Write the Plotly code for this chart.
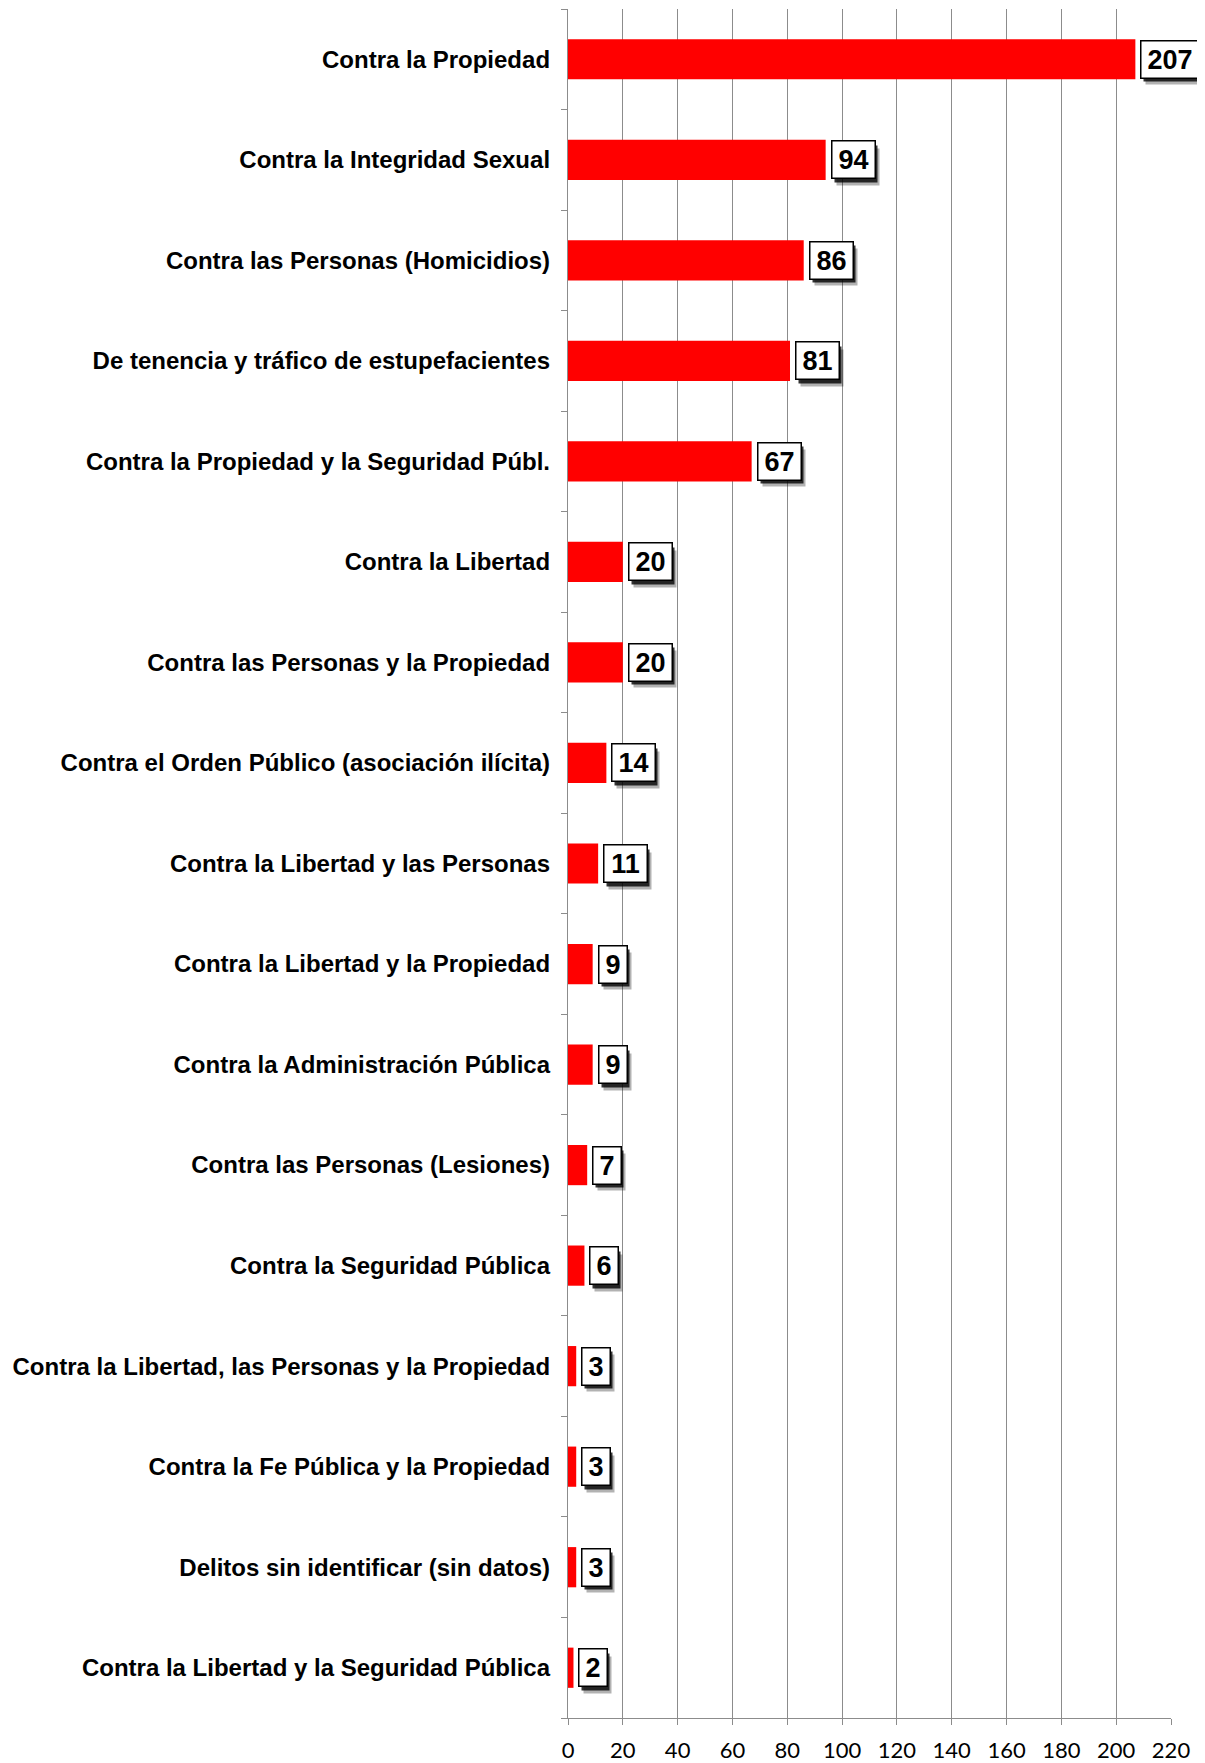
import plotly.graph_objects as go

categories = [
    "Contra la Propiedad",
    "Contra la Integridad Sexual",
    "Contra las Personas (Homicidios)",
    "De tenencia y tráfico de estupefacientes",
    "Contra la Propiedad y la Seguridad Públ.",
    "Contra la Libertad",
    "Contra las Personas y la Propiedad",
    "Contra el Orden Público (asociación ilícita)",
    "Contra la Libertad y las Personas",
    "Contra la Libertad y la Propiedad",
    "Contra la Administración Pública",
    "Contra las Personas (Lesiones)",
    "Contra la Seguridad Pública",
    "Contra la Libertad, las Personas y la Propiedad",
    "Contra la Fe Pública y la Propiedad",
    "Delitos sin identificar (sin datos)",
    "Contra la Libertad y la Seguridad Pública",
]
values = [207, 94, 86, 81, 67, 20, 20, 14, 11, 9, 9, 7, 6, 3, 3, 3, 2]
x_ticks = [0, 20, 40, 60, 80, 100, 120, 140, 160, 180, 200, 220]

fig = go.Figure()
fig.add_trace(go.Bar(
    x=values, y=categories, orientation="h",
    marker=dict(color="#FF0000", line=dict(width=0)),
    width=0.4, hoverinfo="x+y",
))

annotations = []
for v, c in zip(values, categories):
    t = str(v)
    w = 15 * len(t) + 10
    annotations.append(dict(x=v, y=c, xref="x", yref="y", text=" ", showarrow=False,
                            xanchor="left", yanchor="middle", xshift=10, yshift=-7,
                            width=w, height=34, bgcolor="rgba(0,0,0,0.3)", borderpad=1))
    annotations.append(dict(x=v, y=c, xref="x", yref="y", text=" ", showarrow=False,
                            xanchor="left", yanchor="middle", xshift=8, yshift=-4,
                            width=w, height=34, bgcolor="rgba(0,0,0,0.8)", borderpad=1))
for v, c in zip(values, categories):
    t = str(v)
    w = 15 * len(t) + 10
    annotations.append(dict(x=v, y=c, xref="x", yref="y", text="<b>%s</b>" % t, showarrow=False,
                            xanchor="left", yanchor="middle", xshift=5,
                            width=w, height=34, bgcolor="white", bordercolor="black",
                            borderwidth=1.5, borderpad=1,
                            font=dict(family="Arial", size=27, color="black")))

fig.update_layout(
    width=1205, height=1763,
    margin=dict(l=560, r=42, t=1, b=53),
    plot_bgcolor="white", paper_bgcolor="white",
    showlegend=False,
    annotations=annotations,
)
fig.update_xaxes(
    range=[0, 220], tickvals=x_ticks, ticktext=[str(t) for t in x_ticks],
    showgrid=True, gridcolor="#8c8c8c", gridwidth=1.3,
    showline=True, linecolor="#8c8c8c", linewidth=1.3,
    ticks="outside", ticklen=6, tickcolor="#8c8c8c", tickwidth=1.3,
    zeroline=False,
    tickfont=dict(family="Lato, Open Sans, sans-serif", size=22, color="black"),
    ticklabelstandoff=6,
)
fig.update_yaxes(
    categoryorder="array", categoryarray=categories, autorange="reversed",
    tickvals=categories, ticktext=["<b>%s</b>" % c for c in categories],
    showgrid=False, showline=True, linecolor="#8c8c8c", linewidth=1.3,
    ticks="outside", ticklen=6, tickcolor="#8c8c8c", tickwidth=1.3, tickson="boundaries",
    tickfont=dict(family="Arial", size=24, color="black"),
    ticklabelstandoff=12,
)

fig.write_html("out.html")
